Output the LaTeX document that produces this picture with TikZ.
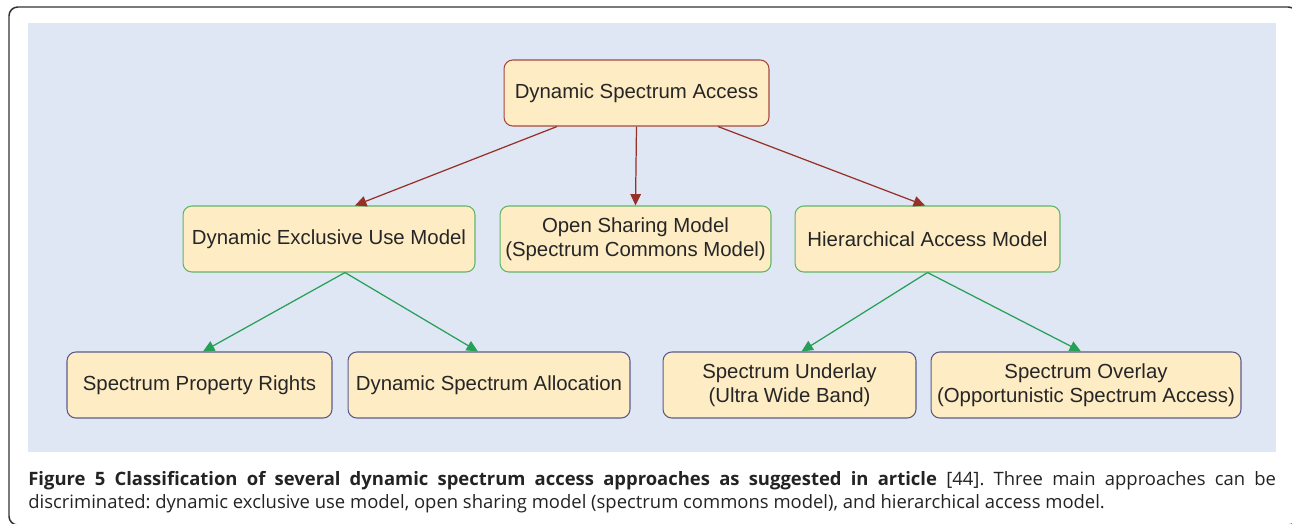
\documentclass[tikz,border=0pt]{standalone}
\usepackage{fontspec}
\setmainfont{Liberation Sans}
\newfontfamily\capfont{Open Sans}
\usetikzlibrary{
  arrows.meta,
  positioning
}
\usepackage{xcolor}
\definecolor{panel}{RGB}{223,230,244}
\definecolor{boxfill}{RGB}{253,236,196}
\definecolor{toplevel}{RGB}{168,72,62}
\definecolor{midlevel}{RGB}{98,182,104}
\definecolor{lowlevel}{RGB}{92,92,138}
\definecolor{toparrow}{RGB}{150,48,40}
\definecolor{midarrow}{RGB}{38,160,86}
\definecolor{captext}{RGB}{35,35,35}
\frenchspacing

\begin{document}
\begin{tikzpicture}[
  x=0.02cm, y=-0.02cm,
  every node/.style={font=\fontsize{11.6}{13.6}\selectfont, text=black!85},
  model/.style={fill=boxfill, rounded corners=5pt, minimum height=1.32cm,
                inner sep=0pt, align=center, line width=0.6pt},
  root/.style={model, draw=toplevel},
  branch/.style={model, draw=midlevel},
  leaf/.style={model, draw=lowlevel},
  rootlink/.style={draw=toparrow, line width=0.7pt,
                   -{Triangle[length=6.5pt,width=6pt]}},
  branchlink/.style={draw=midarrow, line width=0.7pt,
                     -{Triangle[length=6.5pt,width=6pt]}},
  caption/.style={font=\capfont\fontsize{10.5}{13}\selectfont, text=captext,
                  text width=24.96cm, align=justify, inner sep=0pt},
]
\useasboundingbox (0,0) rectangle (1292,524);

% frame and panel
\draw[line width=0.85pt, draw=black!80, rounded corners=5pt] (9,7) rectangle (1297,525);
\fill[panel] (28,23) rectangle (1276,452);

\node[root] (dsa) at (636.5,93) [minimum width=5.3cm] {Dynamic Spectrum Access};

\node[branch] (excl) at (329,239)   [minimum width=5.84cm] {Dynamic Exclusive Use Model};
\node[branch] (open) at (635.5,239) [minimum width=5.42cm] {Open Sharing Model\\(Spectrum Commons Model)};
\node[branch] (hier) at (927.5,239) [minimum width=5.3cm]  {Hierarchical Access Model};

\node[leaf] (prop)  at (199.5,385) [minimum width=5.3cm]  {Spectrum Property Rights};
\node[leaf] (alloc) at (489,385)   [minimum width=5.64cm] {Dynamic Spectrum Allocation};
\node[leaf] (under) at (789.5,385) [minimum width=5.06cm] {Spectrum Underlay\\(Ultra Wide Band)};
\node[leaf] (over)  at (1086,385)  [minimum width=6.2cm]  {Spectrum Overlay\\(Opportunistic Spectrum Access)};

\draw[rootlink] ([xshift=-1.59cm]dsa.south) -- ([xshift=0.52cm]excl.north);
\draw[rootlink] (dsa.south) -- (open.north);
\draw[rootlink] ([xshift=1.63cm]dsa.south) -- ([xshift=-0.05cm]hier.north);

\draw[branchlink] ([xshift=0.32cm]excl.south) -- ([xshift=0.07cm]prop.north);
\draw[branchlink] ([xshift=0.32cm]excl.south) -- ([xshift=-0.22cm]alloc.north);
\draw[branchlink] (hier.south) -- ([xshift=0.24cm]under.north);
\draw[branchlink] (hier.south) -- ([xshift=-0.1cm]over.north);

\node[caption, anchor=north west] (cap) at (28,471) {{\bfseries Figure 5 Classification of several dynamic spectrum access approaches as suggested in article} [44]. Three main approaches can be\linebreak discriminated: dynamic exclusive use model, open sharing model (spectrum commons model), and hierarchical access model.};

\end{tikzpicture}
\end{document}
